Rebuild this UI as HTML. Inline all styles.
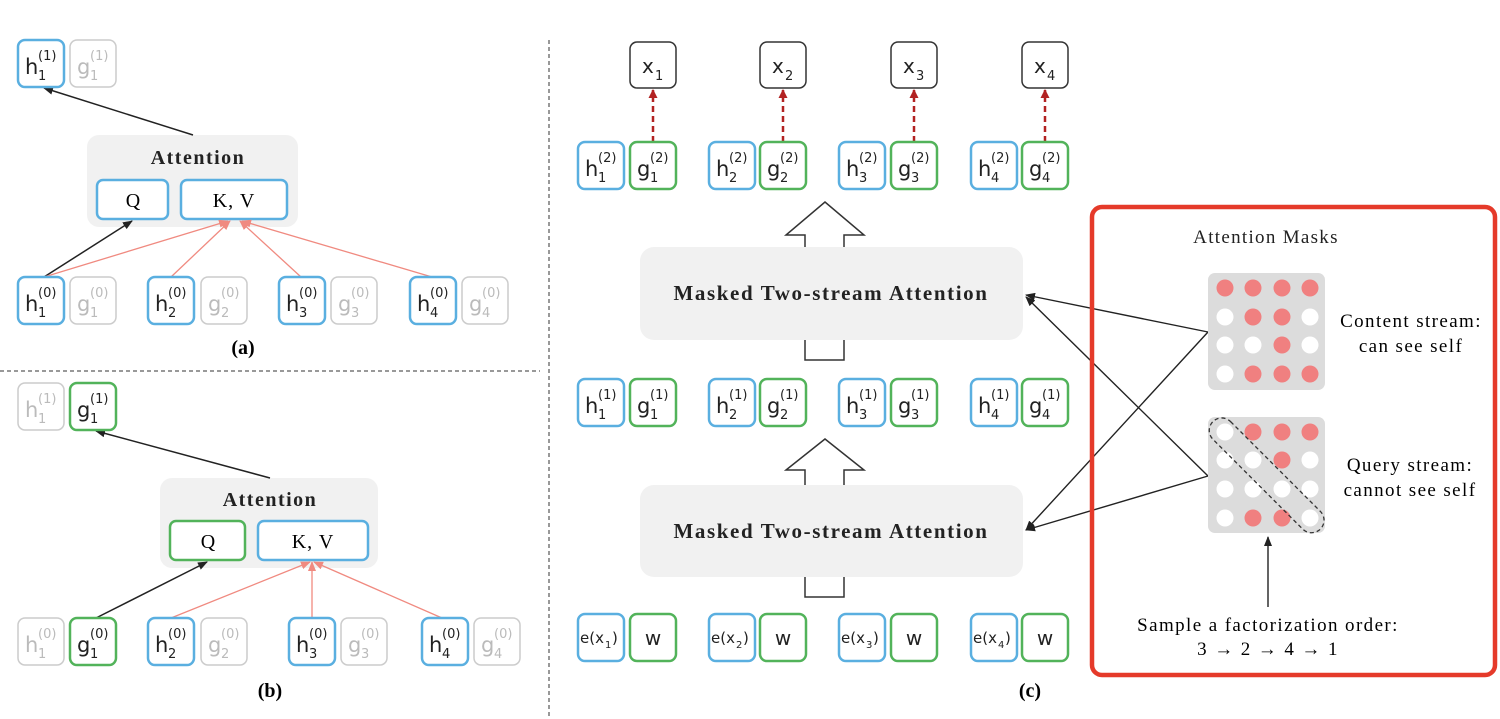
<!DOCTYPE html>
<html><head><meta charset="utf-8"><style>
html,body{margin:0;padding:0;background:#fff;}
svg{display:block;}
.s{font-family:"DejaVu Sans",sans-serif;}
.r{font-family:"Liberation Serif",serif;}
</style></head><body>
<svg width="1500" height="719" viewBox="0 0 1500 719" xmlns="http://www.w3.org/2000/svg">
<defs>
<marker id="ab" markerWidth="10" markerHeight="8" refX="9" refY="4" orient="auto" markerUnits="userSpaceOnUse"><path d="M0,0 L10,4 L0,8 z" fill="#222"/></marker>
<marker id="ar" markerWidth="10" markerHeight="8" refX="9" refY="4" orient="auto" markerUnits="userSpaceOnUse"><path d="M0,0 L10,4 L0,8 z" fill="#f08a80"/></marker>
<marker id="ad" markerWidth="9" markerHeight="9" refX="8" refY="4.5" orient="auto" markerUnits="userSpaceOnUse"><path d="M0,0 L9,4.5 L0,9 z" fill="#b22222"/></marker>
</defs>

<line x1="0" y1="371" x2="540" y2="371" stroke="#333" stroke-width="1" stroke-dasharray="4,3"/>
<line x1="549" y1="40" x2="549" y2="719" stroke="#333" stroke-width="1" stroke-dasharray="4,3"/>

<!-- ===== Panel (a) ===== -->
<rect x="87" y="135" width="211" height="92" rx="12" fill="#f1f1f1"/>
<text x="198" y="164" class="r" font-size="20" font-weight="bold" letter-spacing="1.5" text-anchor="middle" fill="#222">Attention</text>
<rect x="97" y="180" width="71" height="39" rx="6" fill="#fff" stroke="#5aafe0" stroke-width="2.5"/>
<text x="133" y="207" class="r" font-size="20" text-anchor="middle">Q</text>
<rect x="181" y="180" width="106" height="39" rx="6" fill="#fff" stroke="#5aafe0" stroke-width="2.5"/>
<text x="234" y="207" class="r" font-size="20" letter-spacing="1" text-anchor="middle">K, V</text>

<line x1="193" y1="135" x2="44" y2="88" stroke="#222" stroke-width="1.5" marker-end="url(#ab)"/>
<line x1="44" y1="277" x2="132" y2="221" stroke="#222" stroke-width="1.5" marker-end="url(#ab)"/>
<line x1="44" y1="277" x2="228" y2="221" stroke="#f08a80" stroke-width="1.3" marker-end="url(#ar)"/>
<line x1="171" y1="277" x2="230" y2="221" stroke="#f08a80" stroke-width="1.3" marker-end="url(#ar)"/>
<line x1="301" y1="277" x2="240" y2="221" stroke="#f08a80" stroke-width="1.3" marker-end="url(#ar)"/>
<line x1="432" y1="277" x2="242" y2="221" stroke="#f08a80" stroke-width="1.3" marker-end="url(#ar)"/>

<g class="s">
<rect x="18" y="40" width="46" height="47" rx="7" fill="#fff" stroke="#5aafe0" stroke-width="2.5"/>
<text x="25" y="74" font-size="21" fill="#222">h</text><text x="38" y="60" font-size="13" fill="#222">(1)</text><text x="38" y="80" font-size="13" fill="#222">1</text>
<rect x="70" y="40" width="46" height="47" rx="7" fill="#fff" stroke="#ccc" stroke-width="1.5"/>
<text x="77" y="74" font-size="21" fill="#bbb">g</text><text x="90" y="60" font-size="13" fill="#bbb">(1)</text><text x="90" y="80" font-size="13" fill="#bbb">1</text>
<rect x="18" y="277" width="46" height="47" rx="7" fill="#fff" stroke="#5aafe0" stroke-width="2.5"/>
<text x="25" y="311" font-size="21" fill="#222">h</text><text x="38" y="297" font-size="13" fill="#222">(0)</text><text x="38" y="317" font-size="13" fill="#222">1</text>
<rect x="70" y="277" width="46" height="47" rx="7" fill="#fff" stroke="#ccc" stroke-width="1.5"/>
<text x="77" y="311" font-size="21" fill="#bbb">g</text><text x="90" y="297" font-size="13" fill="#bbb">(0)</text><text x="90" y="317" font-size="13" fill="#bbb">1</text>
<rect x="148" y="277" width="46" height="47" rx="7" fill="#fff" stroke="#5aafe0" stroke-width="2.5"/>
<text x="155" y="311" font-size="21" fill="#222">h</text><text x="168" y="297" font-size="13" fill="#222">(0)</text><text x="168" y="317" font-size="13" fill="#222">2</text>
<rect x="201" y="277" width="46" height="47" rx="7" fill="#fff" stroke="#ccc" stroke-width="1.5"/>
<text x="208" y="311" font-size="21" fill="#bbb">g</text><text x="221" y="297" font-size="13" fill="#bbb">(0)</text><text x="221" y="317" font-size="13" fill="#bbb">2</text>
<rect x="279" y="277" width="46" height="47" rx="7" fill="#fff" stroke="#5aafe0" stroke-width="2.5"/>
<text x="286" y="311" font-size="21" fill="#222">h</text><text x="299" y="297" font-size="13" fill="#222">(0)</text><text x="299" y="317" font-size="13" fill="#222">3</text>
<rect x="331" y="277" width="46" height="47" rx="7" fill="#fff" stroke="#ccc" stroke-width="1.5"/>
<text x="338" y="311" font-size="21" fill="#bbb">g</text><text x="351" y="297" font-size="13" fill="#bbb">(0)</text><text x="351" y="317" font-size="13" fill="#bbb">3</text>
<rect x="410" y="277" width="46" height="47" rx="7" fill="#fff" stroke="#5aafe0" stroke-width="2.5"/>
<text x="417" y="311" font-size="21" fill="#222">h</text><text x="430" y="297" font-size="13" fill="#222">(0)</text><text x="430" y="317" font-size="13" fill="#222">4</text>
<rect x="462" y="277" width="46" height="47" rx="7" fill="#fff" stroke="#ccc" stroke-width="1.5"/>
<text x="469" y="311" font-size="21" fill="#bbb">g</text><text x="482" y="297" font-size="13" fill="#bbb">(0)</text><text x="482" y="317" font-size="13" fill="#bbb">4</text>
</g>
<text x="243" y="354" class="r" font-size="20" font-weight="bold" text-anchor="middle">(a)</text>

<!-- ===== Panel (b) ===== -->
<rect x="160" y="478" width="218" height="90" rx="12" fill="#f1f1f1"/>
<text x="270" y="506" class="r" font-size="20" font-weight="bold" letter-spacing="1.5" text-anchor="middle" fill="#222">Attention</text>
<rect x="170" y="521" width="75" height="39" rx="6" fill="#fff" stroke="#52b35a" stroke-width="2.5"/>
<text x="208" y="548" class="r" font-size="20" text-anchor="middle">Q</text>
<rect x="258" y="521" width="110" height="39" rx="6" fill="#fff" stroke="#5aafe0" stroke-width="2.5"/>
<text x="313" y="548" class="r" font-size="20" letter-spacing="1" text-anchor="middle">K, V</text>

<line x1="270" y1="478" x2="96" y2="431" stroke="#222" stroke-width="1.5" marker-end="url(#ab)"/>
<line x1="96" y1="618" x2="207" y2="562" stroke="#222" stroke-width="1.5" marker-end="url(#ab)"/>
<line x1="171" y1="618" x2="310" y2="562" stroke="#f08a80" stroke-width="1.3" marker-end="url(#ar)"/>
<line x1="312" y1="618" x2="312" y2="562" stroke="#f08a80" stroke-width="1.3" marker-end="url(#ar)"/>
<line x1="442" y1="618" x2="314" y2="562" stroke="#f08a80" stroke-width="1.3" marker-end="url(#ar)"/>

<g class="s">
<rect x="18" y="383" width="46" height="47" rx="7" fill="#fff" stroke="#ccc" stroke-width="1.5"/>
<text x="25" y="417" font-size="21" fill="#bbb">h</text><text x="38" y="403" font-size="13" fill="#bbb">(1)</text><text x="38" y="423" font-size="13" fill="#bbb">1</text>
<rect x="70" y="383" width="46" height="47" rx="7" fill="#fff" stroke="#52b35a" stroke-width="2.5"/>
<text x="77" y="417" font-size="21" fill="#222">g</text><text x="90" y="403" font-size="13" fill="#222">(1)</text><text x="90" y="423" font-size="13" fill="#222">1</text>

<rect x="18" y="618" width="46" height="47" rx="7" fill="#fff" stroke="#ccc" stroke-width="1.5"/>
<text x="25" y="652" font-size="21" fill="#bbb">h</text><text x="38" y="638" font-size="13" fill="#bbb">(0)</text><text x="38" y="658" font-size="13" fill="#bbb">1</text>
<rect x="70" y="618" width="46" height="47" rx="7" fill="#fff" stroke="#52b35a" stroke-width="2.5"/>
<text x="77" y="652" font-size="21" fill="#222">g</text><text x="90" y="638" font-size="13" fill="#222">(0)</text><text x="90" y="658" font-size="13" fill="#222">1</text>
<rect x="148" y="618" width="46" height="47" rx="7" fill="#fff" stroke="#5aafe0" stroke-width="2.5"/>
<text x="155" y="652" font-size="21" fill="#222">h</text><text x="168" y="638" font-size="13" fill="#222">(0)</text><text x="168" y="658" font-size="13" fill="#222">2</text>
<rect x="201" y="618" width="46" height="47" rx="7" fill="#fff" stroke="#ccc" stroke-width="1.5"/>
<text x="208" y="652" font-size="21" fill="#bbb">g</text><text x="221" y="638" font-size="13" fill="#bbb">(0)</text><text x="221" y="658" font-size="13" fill="#bbb">2</text>
<rect x="289" y="618" width="46" height="47" rx="7" fill="#fff" stroke="#5aafe0" stroke-width="2.5"/>
<text x="296" y="652" font-size="21" fill="#222">h</text><text x="309" y="638" font-size="13" fill="#222">(0)</text><text x="309" y="658" font-size="13" fill="#222">3</text>
<rect x="341" y="618" width="46" height="47" rx="7" fill="#fff" stroke="#ccc" stroke-width="1.5"/>
<text x="348" y="652" font-size="21" fill="#bbb">g</text><text x="361" y="638" font-size="13" fill="#bbb">(0)</text><text x="361" y="658" font-size="13" fill="#bbb">3</text>
<rect x="422" y="618" width="46" height="47" rx="7" fill="#fff" stroke="#5aafe0" stroke-width="2.5"/>
<text x="429" y="652" font-size="21" fill="#222">h</text><text x="442" y="638" font-size="13" fill="#222">(0)</text><text x="442" y="658" font-size="13" fill="#222">4</text>
<rect x="474" y="618" width="46" height="47" rx="7" fill="#fff" stroke="#ccc" stroke-width="1.5"/>
<text x="481" y="652" font-size="21" fill="#bbb">g</text><text x="494" y="638" font-size="13" fill="#bbb">(0)</text><text x="494" y="658" font-size="13" fill="#bbb">4</text>
</g>
<text x="270" y="697" class="r" font-size="20" font-weight="bold" text-anchor="middle">(b)</text>

<!-- ===== Panel (c) ===== -->
<g class="s" fill="#222">
<rect x="630" y="42" width="46" height="46" rx="7" fill="#fff" stroke="#333" stroke-width="1.5"/>
<text x="642" y="73" font-size="20">x</text><text x="655" y="80" font-size="13">1</text>
<rect x="760" y="42" width="46" height="46" rx="7" fill="#fff" stroke="#333" stroke-width="1.5"/>
<text x="772" y="73" font-size="20">x</text><text x="785" y="80" font-size="13">2</text>
<rect x="891" y="42" width="46" height="46" rx="7" fill="#fff" stroke="#333" stroke-width="1.5"/>
<text x="903" y="73" font-size="20">x</text><text x="916" y="80" font-size="13">3</text>
<rect x="1022" y="42" width="46" height="46" rx="7" fill="#fff" stroke="#333" stroke-width="1.5"/>
<text x="1034" y="73" font-size="20">x</text><text x="1047" y="80" font-size="13">4</text>
</g>
<g stroke="#b22222" stroke-width="2.5" stroke-dasharray="6,4">
<line x1="653" y1="142" x2="653" y2="90" marker-end="url(#ad)"/>
<line x1="783" y1="142" x2="783" y2="90" marker-end="url(#ad)"/>
<line x1="914" y1="142" x2="914" y2="90" marker-end="url(#ad)"/>
<line x1="1045" y1="142" x2="1045" y2="90" marker-end="url(#ad)"/>
</g>

<g class="s" fill="#222">
<rect x="578" y="142" width="46" height="47" rx="7" fill="#fff" stroke="#5aafe0" stroke-width="2.5"/>
<text x="585" y="176" font-size="21">h</text><text x="598" y="162" font-size="13">(2)</text><text x="598" y="182" font-size="13">1</text>
<rect x="630" y="142" width="46" height="47" rx="7" fill="#fff" stroke="#52b35a" stroke-width="2.5"/>
<text x="637" y="176" font-size="21">g</text><text x="650" y="162" font-size="13">(2)</text><text x="650" y="182" font-size="13">1</text>
<rect x="709" y="142" width="46" height="47" rx="7" fill="#fff" stroke="#5aafe0" stroke-width="2.5"/>
<text x="716" y="176" font-size="21">h</text><text x="729" y="162" font-size="13">(2)</text><text x="729" y="182" font-size="13">2</text>
<rect x="760" y="142" width="46" height="47" rx="7" fill="#fff" stroke="#52b35a" stroke-width="2.5"/>
<text x="767" y="176" font-size="21">g</text><text x="780" y="162" font-size="13">(2)</text><text x="780" y="182" font-size="13">2</text>
<rect x="839" y="142" width="46" height="47" rx="7" fill="#fff" stroke="#5aafe0" stroke-width="2.5"/>
<text x="846" y="176" font-size="21">h</text><text x="859" y="162" font-size="13">(2)</text><text x="859" y="182" font-size="13">3</text>
<rect x="891" y="142" width="46" height="47" rx="7" fill="#fff" stroke="#52b35a" stroke-width="2.5"/>
<text x="898" y="176" font-size="21">g</text><text x="911" y="162" font-size="13">(2)</text><text x="911" y="182" font-size="13">3</text>
<rect x="971" y="142" width="46" height="47" rx="7" fill="#fff" stroke="#5aafe0" stroke-width="2.5"/>
<text x="978" y="176" font-size="21">h</text><text x="991" y="162" font-size="13">(2)</text><text x="991" y="182" font-size="13">4</text>
<rect x="1022" y="142" width="46" height="47" rx="7" fill="#fff" stroke="#52b35a" stroke-width="2.5"/>
<text x="1029" y="176" font-size="21">g</text><text x="1042" y="162" font-size="13">(2)</text><text x="1042" y="182" font-size="13">4</text>

<rect x="578" y="379" width="46" height="47" rx="7" fill="#fff" stroke="#5aafe0" stroke-width="2.5"/>
<text x="585" y="413" font-size="21">h</text><text x="598" y="399" font-size="13">(1)</text><text x="598" y="419" font-size="13">1</text>
<rect x="630" y="379" width="46" height="47" rx="7" fill="#fff" stroke="#52b35a" stroke-width="2.5"/>
<text x="637" y="413" font-size="21">g</text><text x="650" y="399" font-size="13">(1)</text><text x="650" y="419" font-size="13">1</text>
<rect x="709" y="379" width="46" height="47" rx="7" fill="#fff" stroke="#5aafe0" stroke-width="2.5"/>
<text x="716" y="413" font-size="21">h</text><text x="729" y="399" font-size="13">(1)</text><text x="729" y="419" font-size="13">2</text>
<rect x="760" y="379" width="46" height="47" rx="7" fill="#fff" stroke="#52b35a" stroke-width="2.5"/>
<text x="767" y="413" font-size="21">g</text><text x="780" y="399" font-size="13">(1)</text><text x="780" y="419" font-size="13">2</text>
<rect x="839" y="379" width="46" height="47" rx="7" fill="#fff" stroke="#5aafe0" stroke-width="2.5"/>
<text x="846" y="413" font-size="21">h</text><text x="859" y="399" font-size="13">(1)</text><text x="859" y="419" font-size="13">3</text>
<rect x="891" y="379" width="46" height="47" rx="7" fill="#fff" stroke="#52b35a" stroke-width="2.5"/>
<text x="898" y="413" font-size="21">g</text><text x="911" y="399" font-size="13">(1)</text><text x="911" y="419" font-size="13">3</text>
<rect x="971" y="379" width="46" height="47" rx="7" fill="#fff" stroke="#5aafe0" stroke-width="2.5"/>
<text x="978" y="413" font-size="21">h</text><text x="991" y="399" font-size="13">(1)</text><text x="991" y="419" font-size="13">4</text>
<rect x="1022" y="379" width="46" height="47" rx="7" fill="#fff" stroke="#52b35a" stroke-width="2.5"/>
<text x="1029" y="413" font-size="21">g</text><text x="1042" y="399" font-size="13">(1)</text><text x="1042" y="419" font-size="13">4</text>

<rect x="578" y="614" width="46" height="47" rx="7" fill="#fff" stroke="#5aafe0" stroke-width="2.5"/>
<text x="580" y="643" font-size="15">e(x</text><text x="605" y="648" font-size="10">1</text><text x="612" y="643" font-size="15">)</text>
<rect x="630" y="614" width="46" height="47" rx="7" fill="#fff" stroke="#52b35a" stroke-width="2.5"/>
<text x="653" y="645" font-size="20" text-anchor="middle">w</text>
<rect x="709" y="614" width="46" height="47" rx="7" fill="#fff" stroke="#5aafe0" stroke-width="2.5"/>
<text x="711" y="643" font-size="15">e(x</text><text x="736" y="648" font-size="10">2</text><text x="743" y="643" font-size="15">)</text>
<rect x="760" y="614" width="46" height="47" rx="7" fill="#fff" stroke="#52b35a" stroke-width="2.5"/>
<text x="783" y="645" font-size="20" text-anchor="middle">w</text>
<rect x="839" y="614" width="46" height="47" rx="7" fill="#fff" stroke="#5aafe0" stroke-width="2.5"/>
<text x="841" y="643" font-size="15">e(x</text><text x="866" y="648" font-size="10">3</text><text x="873" y="643" font-size="15">)</text>
<rect x="891" y="614" width="46" height="47" rx="7" fill="#fff" stroke="#52b35a" stroke-width="2.5"/>
<text x="914" y="645" font-size="20" text-anchor="middle">w</text>
<rect x="971" y="614" width="46" height="47" rx="7" fill="#fff" stroke="#5aafe0" stroke-width="2.5"/>
<text x="973" y="643" font-size="15">e(x</text><text x="998" y="648" font-size="10">4</text><text x="1005" y="643" font-size="15">)</text>
<rect x="1022" y="614" width="46" height="47" rx="7" fill="#fff" stroke="#52b35a" stroke-width="2.5"/>
<text x="1045" y="645" font-size="20" text-anchor="middle">w</text>
</g>

<path d="M805,247 L805,235 L786,235 L825,202 L864,235 L844,235 L844,247" fill="none" stroke="#333" stroke-width="1.5"/>
<path d="M805,340 L805,360 L844,360 L844,340" fill="none" stroke="#333" stroke-width="1.5"/>
<path d="M805,485 L805,470 L786,470 L825,439 L864,470 L844,470 L844,485" fill="none" stroke="#333" stroke-width="1.5"/>
<path d="M805,577 L805,597 L844,597 L844,577" fill="none" stroke="#333" stroke-width="1.5"/>

<rect x="640" y="247" width="383" height="93" rx="14" fill="#f1f1f1"/>
<text x="831" y="300" class="r" font-size="21" font-weight="bold" letter-spacing="1.6" text-anchor="middle" fill="#222">Masked Two-stream Attention</text>
<rect x="640" y="485" width="383" height="92" rx="14" fill="#f1f1f1"/>
<text x="831" y="538" class="r" font-size="21" font-weight="bold" letter-spacing="1.6" text-anchor="middle" fill="#222">Masked Two-stream Attention</text>

<g stroke="#222" stroke-width="1.4" fill="none">
<line x1="1208" y1="332" x2="1026" y2="295" marker-end="url(#ab)"/>
<line x1="1208" y1="332" x2="1026" y2="530" marker-end="url(#ab)"/>
<line x1="1208" y1="476" x2="1026" y2="297" marker-end="url(#ab)"/>
<line x1="1208" y1="476" x2="1026" y2="530" marker-end="url(#ab)"/>
</g>

<rect x="1092" y="207" width="403" height="468" rx="10" fill="none" stroke="#e53a2a" stroke-width="4.5"/>
<text x="1266" y="243" class="r" font-size="19" letter-spacing="1.3" text-anchor="middle" fill="#222">Attention Masks</text>

<rect x="1208" y="273" width="117" height="117" rx="7" fill="#dcdcdc"/>
<g fill="#f08080">
<circle cx="1225" cy="288" r="8.5"/><circle cx="1253" cy="288" r="8.5"/><circle cx="1282" cy="288" r="8.5"/><circle cx="1310" cy="288" r="8.5"/>
<circle cx="1253" cy="317" r="8.5"/><circle cx="1282" cy="317" r="8.5"/>
<circle cx="1282" cy="345" r="8.5"/>
<circle cx="1253" cy="374" r="8.5"/><circle cx="1282" cy="374" r="8.5"/><circle cx="1310" cy="374" r="8.5"/>
</g>
<g fill="#fff">
<circle cx="1225" cy="317" r="8.5"/><circle cx="1310" cy="317" r="8.5"/>
<circle cx="1225" cy="345" r="8.5"/><circle cx="1253" cy="345" r="8.5"/><circle cx="1310" cy="345" r="8.5"/>
<circle cx="1225" cy="374" r="8.5"/>
</g>
<text x="1411" y="327" class="r" font-size="19" letter-spacing="1.4" text-anchor="middle">Content stream:</text>
<text x="1411" y="352" class="r" font-size="19" letter-spacing="1.4" text-anchor="middle">can see self</text>

<rect x="1208" y="417" width="117" height="116" rx="7" fill="#dcdcdc"/>
<g fill="#f08080">
<circle cx="1253" cy="432" r="8.5"/><circle cx="1282" cy="432" r="8.5"/><circle cx="1310" cy="432" r="8.5"/>
<circle cx="1282" cy="460" r="8.5"/>
<circle cx="1253" cy="518" r="8.5"/><circle cx="1282" cy="518" r="8.5"/>
</g>
<g fill="#fff">
<circle cx="1225" cy="432" r="8.5"/>
<circle cx="1225" cy="460" r="8.5"/><circle cx="1253" cy="460" r="8.5"/><circle cx="1310" cy="460" r="8.5"/>
<circle cx="1225" cy="489" r="8.5"/><circle cx="1253" cy="489" r="8.5"/><circle cx="1282" cy="489" r="8.5"/><circle cx="1310" cy="489" r="8.5"/>
<circle cx="1225" cy="518" r="8.5"/><circle cx="1310" cy="518" r="8.5"/>
</g>
<rect x="1191" y="463" width="152" height="25" rx="12.5" fill="none" stroke="#333" stroke-width="1.3" stroke-dasharray="4,3" transform="rotate(45 1267 475)"/>
<text x="1410" y="471" class="r" font-size="19" letter-spacing="1.4" text-anchor="middle">Query stream:</text>
<text x="1410" y="496" class="r" font-size="19" letter-spacing="1.4" text-anchor="middle">cannot see self</text>

<line x1="1268" y1="607" x2="1268" y2="537" stroke="#222" stroke-width="1.4" marker-end="url(#ab)"/>
<text x="1268" y="631" class="r" font-size="19" letter-spacing="1.4" text-anchor="middle">Sample a factorization order:</text>
<text x="1268" y="655" class="r" font-size="19" letter-spacing="1.4" text-anchor="middle">3 <tspan font-weight="bold">→</tspan> 2 <tspan font-weight="bold">→</tspan> 4 <tspan font-weight="bold">→</tspan> 1</text>

<text x="1030" y="697" class="r" font-size="20" font-weight="bold" text-anchor="middle">(c)</text>
</svg>
</body></html>
